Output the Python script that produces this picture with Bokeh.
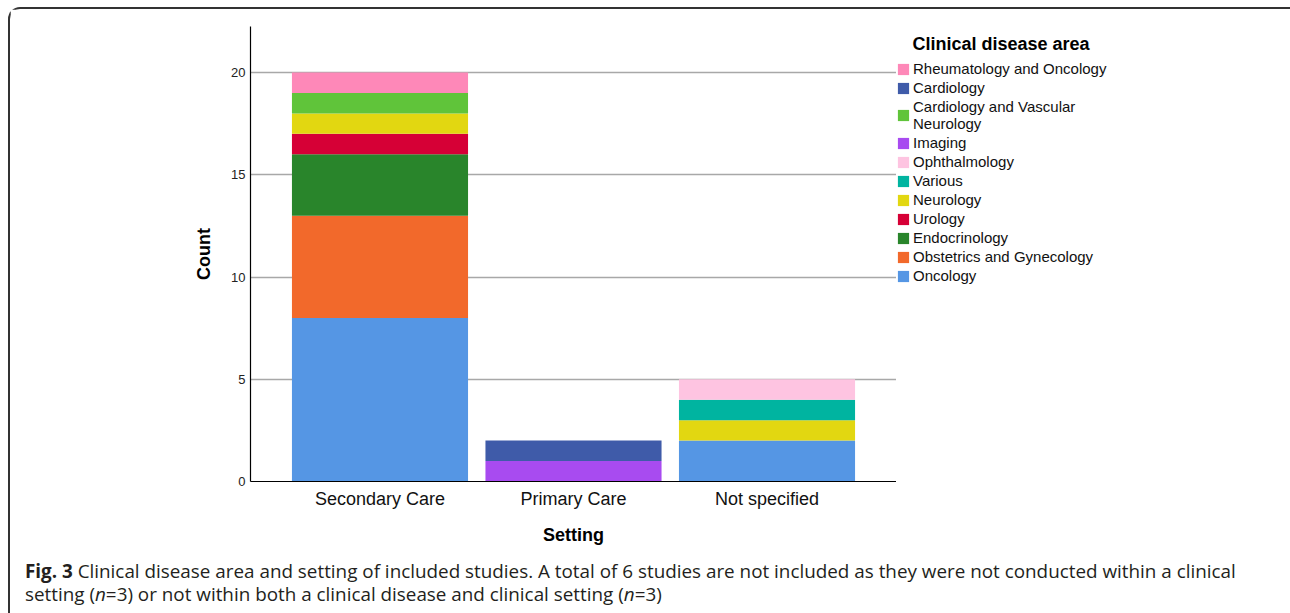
from bokeh.plotting import figure
from bokeh.layouts import column, row
from bokeh.models import (ColumnDataSource, FactorRange, Range1d, FixedTicker,
                          Legend, LegendItem, Div, Label)
from bokeh.embed import file_html
from bokeh.resources import INLINE

# ---------------- data ----------------
settings = ["Secondary Care", "Primary Care", "Not specified"]

# stacking order, bottom -> top
areas = ["Oncology", "Obstetrics and Gynecology", "Endocrinology", "Urology",
         "Neurology", "Various", "Ophthalmology", "Imaging",
         "Cardiology and Vascular Neurology", "Cardiology",
         "Rheumatology and Oncology"]

oncology = [8, 0, 2]
obstetrics_gynecology = [5, 0, 0]
endocrinology = [3, 0, 0]
urology = [1, 0, 0]
neurology = [1, 0, 1]
various = [0, 0, 1]
ophthalmology = [0, 0, 1]
imaging = [0, 1, 0]
cardiology_vascular_neurology = [1, 0, 0]
cardiology = [0, 1, 0]
rheumatology_oncology = [1, 0, 0]

series = [oncology, obstetrics_gynecology, endocrinology, urology, neurology,
          various, ophthalmology, imaging, cardiology_vascular_neurology,
          cardiology, rheumatology_oncology]

colors = ["#5596E4", "#F2692B", "#29852B", "#D60036", "#E2D711", "#00B4A0",
          "#FEC4E1", "#A84BF0", "#60C43A", "#3F5BA9", "#FE88B8"]

legend_labels = {"Cardiology and Vascular Neurology": "Cardiology and Vascular\nNeurology"}

y_ticks = [0, 5, 10, 15, 20]

x_title = "Setting"
y_title = "Count"
legend_title = "Clinical disease area"

caption_html = ("<b>Fig. 3</b> Clinical disease area and setting of included studies. "
                "A total of 6 studies are not included as they were not conducted within a clinical"
                "<br>setting (<i>n</i>=3) or not within both a clinical disease and clinical setting (<i>n</i>=3)")

# ---------------- chart ----------------
data = {"setting": settings}
for a, v in zip(areas, series):
    data[a] = v
source = ColumnDataSource(data)

FONT = "Liberation Sans"
W = 1280
H = 546
LW = 394

p = figure(width=W - LW, height=H,
           x_range=FactorRange(factors=settings, range_padding=0.1128),
           y_range=Range1d(0, 22.25),
           min_border_left=240, min_border_right=0,
           min_border_top=17, min_border_bottom=74,
           output_backend="svg", toolbar_location=None)

renderers = p.vbar_stack(areas, x="setting", width=0.91, source=source,
                         fill_color=colors, line_color=None)

p.outline_line_color = None
p.xgrid.grid_line_color = None
p.ygrid.grid_line_color = "#A8A8A8"
p.ygrid.grid_line_width = 1.5
p.ygrid.ticker = FixedTicker(ticks=y_ticks)

p.yaxis.ticker = FixedTicker(ticks=y_ticks)
for ax in (p.xaxis[0], p.yaxis[0]):
    ax.axis_line_color = "black"
    ax.axis_line_width = 1.2
    ax.major_tick_out = 0
    ax.major_tick_in = 0
    ax.minor_tick_out = 0
    ax.minor_tick_in = 0
    ax.major_label_text_font = FONT
    ax.axis_label_text_font = FONT
    ax.axis_label_text_font_style = "bold"
    ax.axis_label_text_font_size = "18px"
    ax.axis_label_text_color = "black"

p.yaxis.major_label_text_font_size = "13px"
p.yaxis.major_label_text_color = "#222222"
p.yaxis.major_label_standoff = 5
p.yaxis.axis_label = y_title
p.yaxis.axis_label_standoff = 14

p.xaxis.major_label_text_font_size = "18px"
p.xaxis.major_label_text_color = "#111111"
p.xaxis.major_label_standoff = 7
p.xaxis.axis_label = x_title
p.xaxis.axis_label_standoff = 13

# ---------------- legend (own panel to the right of the chart) ----------------
lf = figure(width=LW, height=H, x_range=Range1d(0, 1), y_range=Range1d(0, 1),
            x_axis_type=None, y_axis_type=None,
            min_border_left=0, min_border_right=0,
            min_border_top=17, min_border_bottom=74,
            output_backend="svg", toolbar_location=None)
lf.outline_line_color = None
lf.grid.visible = False

# legend swatches: proxies that sit outside the visible range of this panel
items = []
for a, c in reversed(list(zip(areas, colors))):
    proxy = lf.vbar(x=[-5], top=[0], bottom=[0], width=0.5,
                    fill_color=c, line_color=None)
    items.append(LegendItem(label=legend_labels.get(a, a), renderers=[proxy]))

legend = Legend(items=items, location=(0, 197),
                label_text_font=FONT, label_text_font_size="15px",
                label_text_color="#111111", label_text_line_height=0.88,
                glyph_width=14, glyph_height=14, label_standoff=3,
                label_height=17, spacing=2, padding=0, margin=0,
                border_line_color=None, background_fill_alpha=0)
lf.add_layout(legend)

lf.add_layout(Label(x=16, y=438, x_units="screen", y_units="screen",
                    text=legend_title, text_font=FONT,
                    text_font_style="bold", text_font_size="18px",
                    text_color="black", text_baseline="middle"))

# ---------------- caption ----------------
cap = Div(text=caption_html, width=W, height=58,
          styles={"font-family": "'Open Sans', sans-serif",
                  "font-size": "18.85px", "line-height": "23px",
                  "color": "#231F20", "white-space": "nowrap",
                  "padding": "5px 0 0 15px", "box-sizing": "border-box",
                  "margin": "0"})

layout = column(row(p, lf, spacing=0), cap, spacing=0)
layout.styles = {"margin": "7px 0 0 8px",
                 "border-top": "2px solid #333333",
                 "border-left": "2px solid #333333",
                 "border-top-left-radius": "12px"}

open("out.html", "w").write(file_html(layout, INLINE))
